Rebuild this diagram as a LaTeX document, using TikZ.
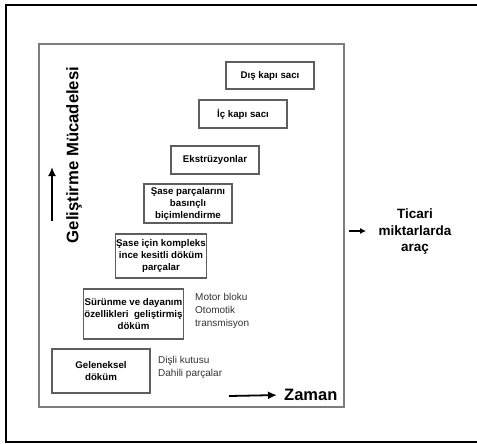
\documentclass[tikz,border=0pt]{standalone}
\usepackage{fontspec}
\setmainfont{Liberation Sans}
\usetikzlibrary{arrows.meta,positioning}
\definecolor{framegray}{HTML}{7C7C84}
\definecolor{boxgray}{HTML}{5E5E5E}
\definecolor{txtgray}{HTML}{333333}

\begin{document}
\begin{tikzpicture}[x=1pt,y=-1pt,
  stepbox/.style={draw=boxgray,line width=1.2pt,inner sep=1pt,align=center,
    font=\fontsize{9.7}{12}\selectfont\bfseries},
  sidetext/.style={align=left,anchor=north west,inner sep=0pt,text=txtgray,
    font=\fontsize{10}{13}\selectfont},
  axisarrow/.style={line width=1.8pt,-{Latex[length=9pt,width=8pt]}}]
  \useasboundingbox (0,0) rectangle (477,444);
  % outer frame, open to the right
  \draw[line width=2pt] (480,5) -- (6,5) -- (6,442) -- (480,442);
  \draw[framegray,line width=1.3pt] (39,44) rectangle (344,407);
  % steps
  \node[stepbox,minimum width=88pt,minimum height=27pt] (dis) at (270,75.5) {Dış kapı sacı};
  \node[stepbox,minimum width=88pt,minimum height=28pt] (ic) at (243,114) {İç kapı sacı};
  \node[stepbox,minimum width=88pt,minimum height=28pt] (ekstr) at (215,160) {Ekstrüzyonlar};
  \node[stepbox,minimum width=88pt,minimum height=39pt] (sasepres) at (188,203.5) {Şase parçalarını\\basınçlı\\biçimlendirme};
  \node[stepbox,minimum width=88pt,minimum height=44pt] (sasedok) at (161,256) {Şase için kompleks\\ince kesitli döküm\\parçalar};
  \node[stepbox,minimum width=99pt,minimum height=50pt] (surunme) at (133.5,314) {Sürünme ve dayanım\\özellikleri\ \ geliştirmiş\\döküm};
  \node[stepbox,minimum width=98pt,minimum height=44pt] (gelen) at (101,371) {Geleneksel\\döküm};
  % side notes
  \node[sidetext] (motor) at (195,293) {Motor bloku\\Otomotik\\transmisyon};
  \node[sidetext] (disli) at (158,356) {Dişli kutusu\\Dahili parçalar};
  % axes
  \coordinate (gbot) at (52,221);
  \coordinate (gtop) at (52,167);
  \draw[axisarrow] (gbot) -- (gtop);
  \node[rotate=90,font=\fontsize{16.7}{20}\selectfont\bfseries] (gelisme) at (74,155) {Geliştirme Mücadelesi};
  \coordinate (tstart) at (229,396);
  \node[anchor=west,inner sep=3pt,font=\fontsize{16.5}{20}\selectfont\bfseries] (zaman) at (281,395) {Zaman};
  \draw[axisarrow,shorten >=4pt] (tstart) -- (zaman.west);
  % result
  \node[align=center,font=\fontsize{13.5}{16.5}\selectfont\bfseries] (ticari) at (415,232) {Ticari\\miktarlarda\\araç};
  \coordinate (tcstart) at (349,231);
  \draw[line width=1.2pt,-{Latex[length=6pt,width=6pt]},shorten >=9pt] (tcstart) -- (ticari.west |- tcstart);
\end{tikzpicture}
\end{document}
